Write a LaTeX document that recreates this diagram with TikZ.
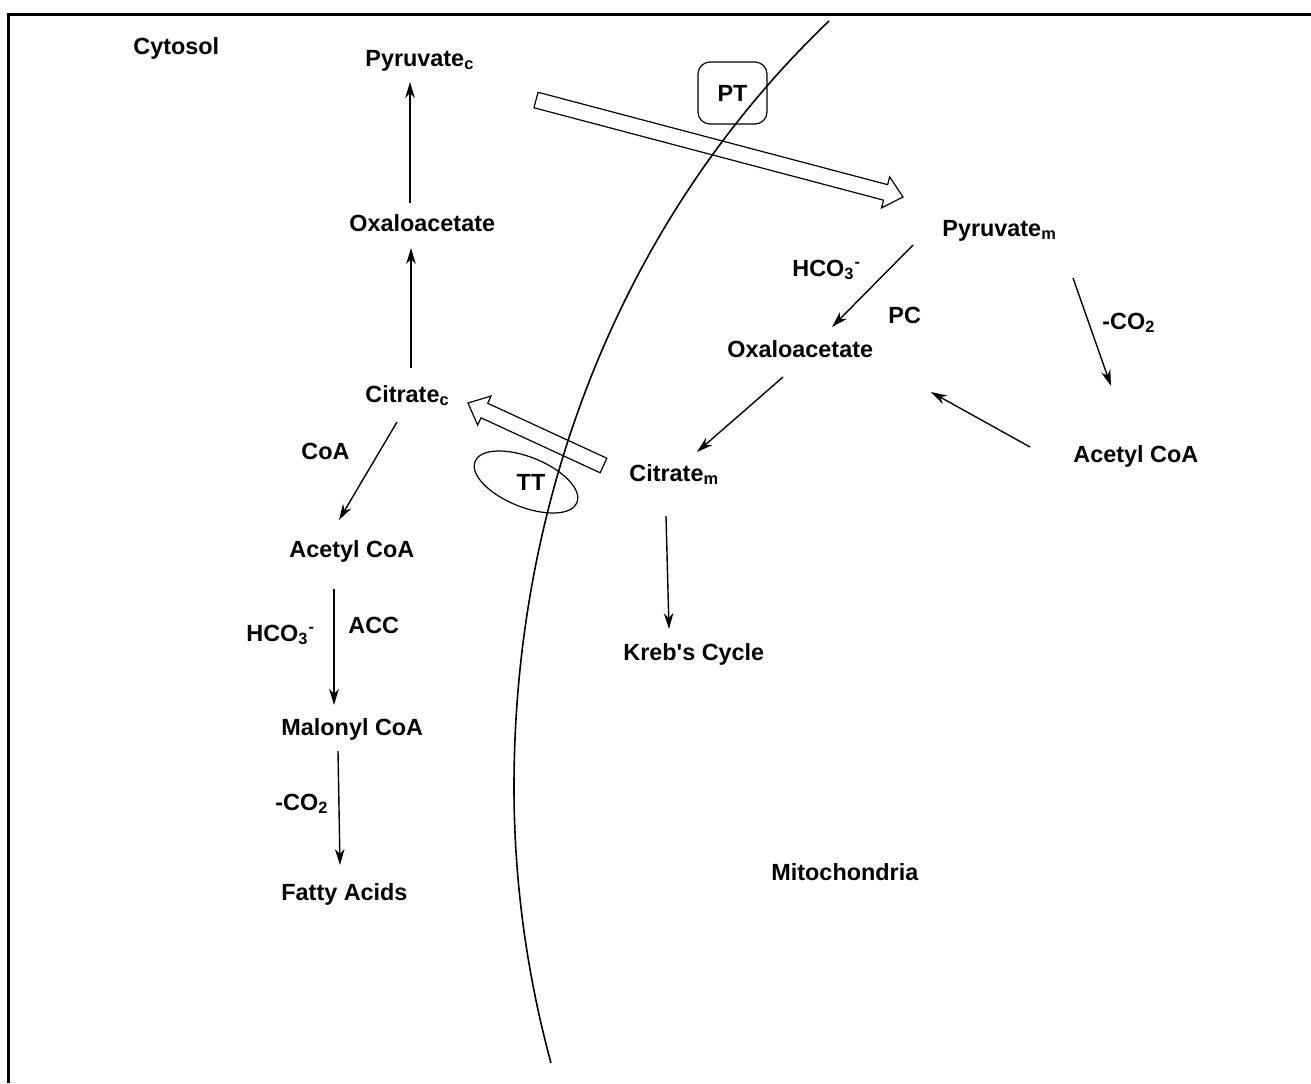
\documentclass[tikz,border=0pt]{standalone}
\usepackage{fontspec}
\setmainfont{Liberation Sans}
\usetikzlibrary{calc,arrows.meta}
\newcommand{\hollowarr}[2]{%
  \coordinate (hb) at ($(#2)!9pt!(#1)$);
  \draw[line width=0.6pt, line join=miter]
    ($(#1)!4pt!90:(#2)$) -- ($(hb)!4pt!90:(#2)$) -- ($(hb)!8pt!90:(#2)$) -- (#2)
    -- ($(hb)!8pt!-90:(#2)$) -- ($(hb)!4pt!-90:(#2)$) -- ($(#1)!4pt!-90:(#2)$) -- cycle;}
\begin{document}
\begin{tikzpicture}[x=0.5pt,y=-0.5pt,
  lbl/.style={font=\fontsize{11.7}{14}\selectfont\bfseries, inner sep=0pt, anchor=base west},
  rx/.style={-{Stealth[length=8pt,width=4.8pt,inset=2.5pt]}, line width=0.7pt}]
\useasboundingbox (0,0) rectangle (1311,1083);
% frame (top and left)
\draw[line width=1.5pt] (1311,14) -- (8,14) -- (8,1083);
% membrane
\coordinate (m1) at (829,21);
\coordinate (m2) at (514,787);
\coordinate (m3) at (551,1063);
\draw[line width=0.8pt] (m1) .. controls (621,220) and (514,499) .. (m2)
  .. controls (514,880) and (526.5,973) .. (m3);
% labels
\node[lbl] (cyt) at (133,54) {Cytosol};
\node[lbl] (pyc) at (365,66) {Pyruvate\textsubscript{c}};
\node[lbl] (oxc) at (349,231) {Oxaloacetate};
\node[lbl] (cic) at (365,402) {Citrate\textsubscript{c}};
\node[lbl] (coa) at (301,459) {CoA};
\node[lbl] (acc1) at (289,557) {Acetyl CoA};
\node[lbl] (hco1) at (246,641) {HCO\textsubscript{3}\textsuperscript{-}};
\node[lbl] (accn) at (348,633) {ACC};
\node[lbl] (mal) at (281,735) {Malonyl CoA};
\node[lbl] (co21) at (275,810) {-CO\textsubscript{2}};
\node[lbl] (fat) at (281,900) {Fatty Acids};
\node[lbl] (pym) at (942,236) {Pyruvate\textsubscript{m}};
\node[lbl] (hco2) at (792,276) {HCO\textsubscript{3}\textsuperscript{-}};
\node[lbl] (pc) at (888,323) {PC};
\node[lbl] (oxm) at (727,357) {Oxaloacetate};
\node[lbl] (co22) at (1102,329) {-CO\textsubscript{2}};
\node[lbl] (acm) at (1073,462) {Acetyl CoA};
\node[lbl] (cim) at (629,481) {Citrate\textsubscript{m}};
\node[lbl] (kreb) at (623,660) {Kreb\textquotesingle s Cycle};
\node[lbl] (mito) at (771,880) {Mitochondria};
% transporters
\node[draw, line width=0.6pt, rounded corners=6pt, minimum width=34.5pt, minimum height=31pt,
      font=\fontsize{11.7}{14}\selectfont\bfseries] (pt) at (732.5,93) {PT};
\draw[line width=0.6pt, rotate around={-22:(526,482)}] (526,482) ellipse [x radius=27.5pt, y radius=12.5pt];
\node[font=\fontsize{11.7}{14}\selectfont\bfseries, inner sep=0pt] (tt) at (531,482) {TT};
% hollow transport arrows
\coordinate (u1) at (536,100);
\coordinate (u2) at (903,197);
\hollowarr{u1}{u2}
\coordinate (l1) at (603.5,465.5);
\coordinate (l2) at (468,403);
\hollowarr{l1}{l2}
% reaction arrows (cytosol)
\coordinate (a1s) at (410,203); \coordinate (a1e) at (410,82);
\draw[rx] (a1s) -- (a1e);
\coordinate (a2s) at (411,368); \coordinate (a2e) at (411,248);
\draw[rx] (a2s) -- (a2e);
\coordinate (a3s) at (397,422); \coordinate (a3e) at (339,520);
\draw[rx] (a3s) -- (a3e);
\coordinate (a4s) at (334,589); \coordinate (a4e) at (334,705);
\draw[rx] (a4s) -- (a4e);
\coordinate (a5s) at (338,751); \coordinate (a5e) at (340,865);
\draw[rx] (a5s) -- (a5e);
% reaction arrows (mitochondria)
\coordinate (b1s) at (913,245); \coordinate (b1e) at (832,327);
\draw[rx] (b1s) -- (b1e);
\coordinate (b2s) at (1073,278); \coordinate (b2e) at (1111,386);
\draw[rx] (b2s) -- (b2e);
\coordinate (b3s) at (1030,447); \coordinate (b3e) at (931,392);
\draw[rx] (b3s) -- (b3e);
\coordinate (b4s) at (783,377); \coordinate (b4e) at (697,452);
\draw[rx] (b4s) -- (b4e);
\coordinate (b5s) at (666,516); \coordinate (b5e) at (669,629);
\draw[rx] (b5s) -- (b5e);
\end{tikzpicture}
\end{document}
